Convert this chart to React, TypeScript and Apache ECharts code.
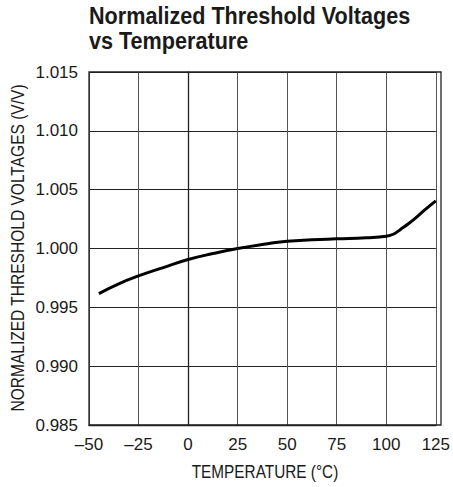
import React, { useEffect, useRef } from "react";
import * as echarts from "echarts";

const temperatures = [-45, -35, -25, -12.5, 0, 12.5, 25, 40, 50, 62.5, 75, 90, 100, 104, 107, 111, 115, 119, 125];
const ratios = [0.99617, 0.997, 0.99767, 0.99838, 0.99906, 0.99957, 1.0, 1.0004, 1.00062, 1.00074, 1.00082, 1.00091, 1.00104, 1.00125, 1.0016, 1.00208, 1.00262, 1.00322, 1.00405];
const xTicks = { min: -50, max: 125, step: 25 };
const yTicks = { min: 0.985, max: 1.015, step: 0.005 };
const titleLines = ["Normalized Threshold Voltages", "vs Temperature"];
const xTitle = "TEMPERATURE (°C)";
const yTitle = "NORMALIZED THRESHOLD VOLTAGES (V/V)";

const REG = "'Liberation Sans', Arial, sans-serif";

export default function App() {
  const ref = useRef<HTMLDivElement>(null);
  useEffect(() => {
    if (!ref.current) return;
    const chart = echarts.init(ref.current, null, { renderer: "svg" });
    const data = temperatures.map((t, i) => [t, ratios[i]]);
    const titleStyle = { fontFamily: REG, fontWeight: "bold", fontSize: 24, fill: "#1a1a1a", textVerticalAlign: "top" };
    const nameStyle = { fontFamily: REG, fontSize: 18.5, fill: "#1a1a1a", textAlign: "center", textVerticalAlign: "middle" };
    chart.setOption({
      animation: false,
      backgroundColor: "#fff",
      grid: { left: 89, right: 12, top: 72, bottom: 62, containLabel: false },
      xAxis: {
        type: "value",
        min: xTicks.min,
        max: xTicks.max,
        interval: xTicks.step,
        axisLine: { show: true, lineStyle: { color: "#222", width: 1.3 } },
        axisTick: { show: false },
        axisLabel: {
          margin: 11,
          fontFamily: REG,
          fontSize: 17,
          color: "#1a1a1a",
          formatter: (v: number) => (v < 0 ? "\u2013" + Math.abs(v) : String(v)),
        },
        splitLine: { show: true, lineStyle: { color: "#555", width: 1 } },
      },
      yAxis: {
        type: "value",
        min: yTicks.min,
        max: yTicks.max,
        interval: yTicks.step,
        axisLine: { show: true, lineStyle: { color: "#222", width: 1.3 } },
        axisTick: { show: false },
        axisLabel: {
          margin: 11,
          fontFamily: REG,
          fontSize: 17,
          color: "#1a1a1a",
          formatter: (v: number) => v.toFixed(3),
        },
        splitLine: { show: true, lineStyle: { color: "#222", width: 1 } },
      },
      graphic: [
        {
          type: "text",
          x: 89,
          y: 4,
          scaleX: 0.9,
          style: { ...titleStyle, text: titleLines[0], textAlign: "left" },
        },
        {
          type: "text",
          x: 89,
          y: 29,
          scaleX: 0.9,
          style: { ...titleStyle, text: titleLines[1], textAlign: "left" },
        },
        {
          type: "text",
          x: 265,
          y: 472,
          scaleX: 0.83,
          style: { ...nameStyle, text: xTitle },
        },
        {
          type: "text",
          x: 18,
          y: 248,
          rotation: Math.PI / 2,
          scaleX: 0.84,
          style: { ...nameStyle, text: yTitle },
        },
        {
          type: "rect",
          shape: { x: 89, y: 72, width: 352, height: 353 },
          style: { fill: "none", stroke: "#222", lineWidth: 1.3 },
          z: 10,
          silent: true,
        },
      ],
      series: [
        {
          type: "line",
          data,
          smooth: 0.5,
          showSymbol: false,
          symbol: "none",
          lineStyle: { color: "#000", width: 3 },
          z: 20,
        },
      ],
    });
    return () => chart.dispose();
  }, []);
  return <div ref={ref} style={{ width: 453, height: 487, position: "absolute", left: 0, top: 0 }} />;
}
